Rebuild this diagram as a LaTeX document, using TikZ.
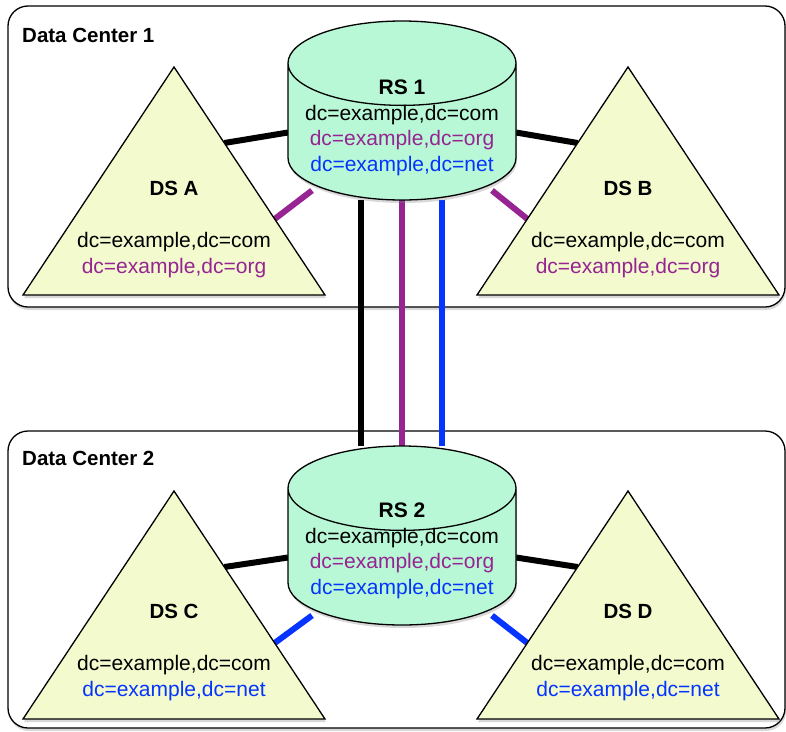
\documentclass[tikz,border=0pt]{standalone}
\usepackage{fontspec}
\setmainfont{Liberation Sans}
\usetikzlibrary{shapes.geometric,shadows,backgrounds,calc}

\definecolor{rsfill}{RGB}{184,248,214}
\definecolor{dsfill}{RGB}{242,250,206}
\definecolor{orgpurple}{RGB}{150,36,146}
\definecolor{netblue}{RGB}{6,52,255}

\tikzset{
  softshadow/.style={drop shadow={opacity=0.3, shadow xshift=1pt, shadow yshift=-3pt}},
  dcbox/.style={draw, line width=1.3pt, rounded corners=20pt, inner sep=0pt, outer sep=0pt, fill=white, softshadow},
  rsnode/.style={cylinder, shape border rotate=90, aspect=0.37, draw, line width=1.3pt, fill=rsfill,
    minimum width=228pt, minimum height=179pt, inner xsep=114pt, inner ysep=0pt, outer sep=0pt,
    anchor=north, softshadow},
  dsnode/.style={isosceles triangle, shape border rotate=90, isosceles triangle stretches,
    draw, line width=1.3pt, fill=dsfill, minimum width=302pt, minimum height=228pt,
    inner sep=0pt, outer sep=0pt, anchor=apex, softshadow},
  title/.style={font=\bfseries\fontsize{20.5}{25.5}\selectfont, inner sep=0pt, anchor=base},
  txt/.style={font=\fontsize{21}{25.5}\selectfont, align=center, inner sep=0pt, anchor=base},
  link/.style={line width=6pt},
}

\begin{document}
\begin{tikzpicture}[x=1pt,y=-1pt]
\useasboundingbox (0,0) rectangle (786,731);

% data centers
\begin{scope}[on background layer]
  \node[dcbox, minimum width=777pt, minimum height=301pt] (dc1) at (396.5,156.5) {};
  \node[dcbox, minimum width=777pt, minimum height=297pt] (dc2) at (396.5,579.5) {};
\end{scope}
\node[title, anchor=base west] (dc1lbl) at (22,42) {Data Center 1};
\node[title, anchor=base west] (dc2lbl) at (22,465) {Data Center 2};

% replication servers
\node[rsnode] (rs1) at (402,21) {};
\node[txt] (rs1txt) at (402,171) {\textbf{RS 1}\\dc=example,dc=com\\
  \textcolor{orgpurple}{dc=example,dc=org}\\\textcolor{netblue}{dc=example,dc=net}};
\node[rsnode] (rs2) at (402,446) {};
\node[txt] (rs2txt) at (402,594) {\textbf{RS 2}\\dc=example,dc=com\\
  \textcolor{orgpurple}{dc=example,dc=org}\\\textcolor{netblue}{dc=example,dc=net}};

% directory servers
\node[dsnode] (dsA) at (174,67) {};
\node[title] (dsAname) at (174,195) {DS A};
\node[txt] (dsAtxt) at (174,273) {dc=example,dc=com\\\textcolor{orgpurple}{dc=example,dc=org}};
\node[dsnode] (dsB) at (628,67) {};
\node[title] (dsBname) at (628,195) {DS B};
\node[txt] (dsBtxt) at (628,273) {dc=example,dc=com\\\textcolor{orgpurple}{dc=example,dc=org}};
\node[dsnode] (dsC) at (174,491) {};
\node[title] (dsCname) at (174,618) {DS C};
\node[txt] (dsCtxt) at (174,696) {dc=example,dc=com\\\textcolor{netblue}{dc=example,dc=net}};
\node[dsnode] (dsD) at (628,491) {};
\node[title] (dsDname) at (628,618) {DS D};
\node[txt] (dsDtxt) at (628,696) {dc=example,dc=com\\\textcolor{netblue}{dc=example,dc=net}};

% links
\begin{scope}[on background layer]
  \draw[link] ($(rs1.shape center)+(-114,22)$) -- ($(dsA.apex)!1/3!(dsA.right corner)$);
  \draw[link, orgpurple] ($(rs1.shape center)+(-90,80)$) -- ($(dsA.apex)!2/3!(dsA.right corner)$);
  \draw[link] ($(rs1.shape center)+(114,22)$) -- ($(dsB.apex)!1/3!(dsB.left corner)$);
  \draw[link, orgpurple] ($(rs1.shape center)+(90,80)$) -- ($(dsB.apex)!2/3!(dsB.left corner)$);
  \draw[link] ($(rs2.shape center)+(-114,22)$) -- ($(dsC.apex)!1/3!(dsC.right corner)$);
  \draw[link, netblue] ($(rs2.shape center)+(-90,80)$) -- ($(dsC.apex)!2/3!(dsC.right corner)$);
  \draw[link] ($(rs2.shape center)+(114,22)$) -- ($(dsD.apex)!1/3!(dsD.left corner)$);
  \draw[link, netblue] ($(rs2.shape center)+(90,80)$) -- ($(dsD.apex)!2/3!(dsD.left corner)$);
  \draw[line width=5.5pt] ([xshift=-41pt]rs1.south) -- ([xshift=-41pt]rs2.north);
  \draw[line width=5.5pt, orgpurple] (rs1.south) -- (rs2.north);
  \draw[line width=5.5pt, netblue] ([xshift=40pt]rs1.south) -- ([xshift=40pt]rs2.north);
\end{scope}
\end{tikzpicture}
\end{document}
